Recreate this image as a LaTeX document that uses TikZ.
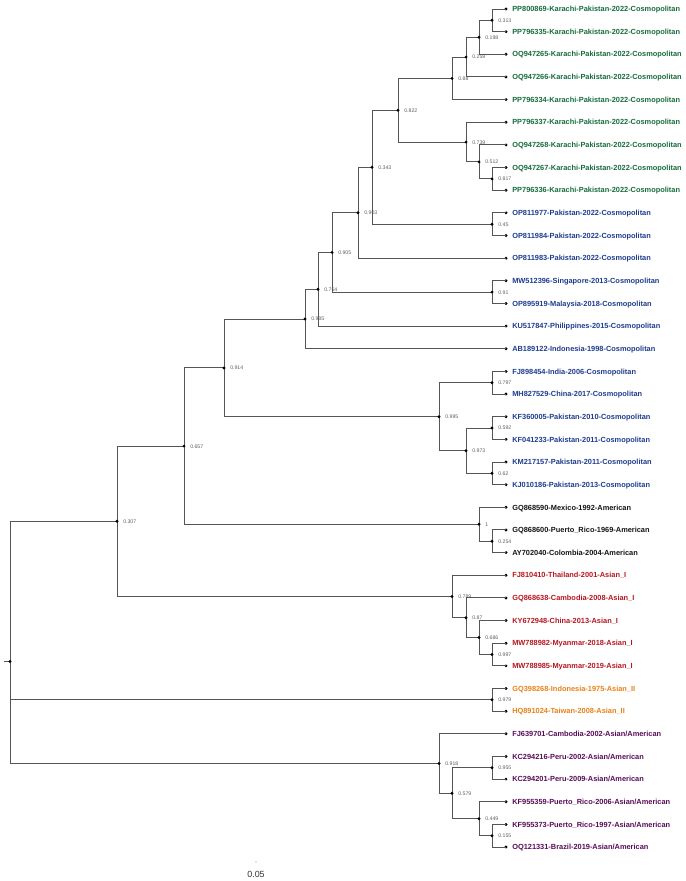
\documentclass[tikz,border=0pt]{standalone}
\usepackage{fontspec}
\setmainfont{Liberation Sans}
\definecolor{cgreen}{RGB}{22,108,60}
\definecolor{cblue}{RGB}{30,60,140}
\definecolor{cred}{RGB}{180,22,32}
\definecolor{corange}{RGB}{232,128,24}
\definecolor{cpurple}{RGB}{88,12,88}
\definecolor{cblack}{RGB}{20,20,20}
\definecolor{linegray}{RGB}{85,85,85}
\definecolor{labgray}{RGB}{95,95,95}
\tikzset{
  edge/.style={draw=linegray, line width=0.7pt},
  dotfill/.style={fill=black},
  leaflab/.style={anchor=base west, inner sep=0pt, font=\fontsize{5.55}{6}\selectfont\bfseries},
  bslab/.style={anchor=base west, inner sep=0pt, text=labgray, font=\fontsize{3.9}{4.2}\selectfont},
  scalelab/.style={inner sep=0pt, text=black!80, font=\fontsize{6.7}{7}\selectfont}
}
\newcommand\leafat[4]{%
  \coordinate (#1) at (506,#2);
  \fill[dotfill] (#1) circle[radius=1.2pt];
  \node[leaflab,text=#3] (#1t) at (512,#2+2.7) {#4};
}
\newcommand\inode[4]{%
  \coordinate (#1) at (#2,#3);
  \node[bslab] (#1b) at (#2+6,#3+1.9) {#4};
}
\begin{document}
\begin{tikzpicture}[x=0.75pt,y={(0pt,-0.75pt)}]
\useasboundingbox (0,0) rectangle (685,881);
% leaves
\leafat{L1}{9.0}{cgreen}{PP800869-Karachi-Pakistan-2022-Cosmopolitan}
\leafat{L2}{31.65}{cgreen}{PP796335-Karachi-Pakistan-2022-Cosmopolitan}
\leafat{L3}{54.3}{cgreen}{OQ947265-Karachi-Pakistan-2022-Cosmopolitan}
\leafat{L4}{76.95}{cgreen}{OQ947266-Karachi-Pakistan-2022-Cosmopolitan}
\leafat{L5}{99.6}{cgreen}{PP796334-Karachi-Pakistan-2022-Cosmopolitan}
\leafat{L6}{122.25}{cgreen}{PP796337-Karachi-Pakistan-2022-Cosmopolitan}
\leafat{L7}{144.9}{cgreen}{OQ947268-Karachi-Pakistan-2022-Cosmopolitan}
\leafat{L8}{167.55}{cgreen}{OQ947267-Karachi-Pakistan-2022-Cosmopolitan}
\leafat{L9}{190.2}{cgreen}{PP796336-Karachi-Pakistan-2022-Cosmopolitan}
\leafat{L10}{212.85}{cblue}{OP811977-Pakistan-2022-Cosmopolitan}
\leafat{L11}{235.5}{cblue}{OP811984-Pakistan-2022-Cosmopolitan}
\leafat{L12}{258.15}{cblue}{OP811983-Pakistan-2022-Cosmopolitan}
\leafat{L13}{280.8}{cblue}{MW512396-Singapore-2013-Cosmopolitan}
\leafat{L14}{303.45}{cblue}{OP895919-Malaysia-2018-Cosmopolitan}
\leafat{L15}{326.1}{cblue}{KU517847-Philippines-2015-Cosmopolitan}
\leafat{L16}{348.75}{cblue}{AB189122-Indonesia-1998-Cosmopolitan}
\leafat{L17}{371.4}{cblue}{FJ898454-India-2006-Cosmopolitan}
\leafat{L18}{394.05}{cblue}{MH827529-China-2017-Cosmopolitan}
\leafat{L19}{416.7}{cblue}{KF360005-Pakistan-2010-Cosmopolitan}
\leafat{L20}{439.35}{cblue}{KF041233-Pakistan-2011-Cosmopolitan}
\leafat{L21}{462.0}{cblue}{KM217157-Pakistan-2011-Cosmopolitan}
\leafat{L22}{484.65}{cblue}{KJ010186-Pakistan-2013-Cosmopolitan}
\leafat{L23}{507.3}{cblack}{GQ868590-Mexico-1992-American}
\leafat{L24}{529.95}{cblack}{GQ868600-Puerto\_Rico-1969-American}
\leafat{L25}{552.6}{cblack}{AY702040-Colombia-2004-American}
\leafat{L26}{575.25}{cred}{FJ810410-Thailand-2001-Asian\_I}
\leafat{L27}{597.9}{cred}{GQ868638-Cambodia-2008-Asian\_I}
\leafat{L28}{620.55}{cred}{KY672948-China-2013-Asian\_I}
\leafat{L29}{643.2}{cred}{MW788982-Myanmar-2018-Asian\_I}
\leafat{L30}{665.85}{cred}{MW788985-Myanmar-2019-Asian\_I}
\leafat{L31}{688.5}{corange}{GQ398268-Indonesia-1975-Asian\_II}
\leafat{L32}{711.15}{corange}{HQ891024-Taiwan-2008-Asian\_II}
\leafat{L33}{733.8}{cpurple}{FJ639701-Cambodia-2002-Asian/American}
\leafat{L34}{756.45}{cpurple}{KC294216-Peru-2002-Asian/American}
\leafat{L35}{779.1}{cpurple}{KC294201-Peru-2009-Asian/American}
\leafat{L36}{801.75}{cpurple}{KF955359-Puerto\_Rico-2006-Asian/American}
\leafat{L37}{824.4}{cpurple}{KF955373-Puerto\_Rico-1997-Asian/American}
\leafat{L38}{847.05}{cpurple}{OQ121331-Brazil-2019-Asian/American}
% internal nodes
\inode{n313}{492}{20.3}{0.313}
\inode{n198}{479}{37.3}{0.198}
\inode{n259}{466}{57.1}{0.259}
\inode{n88}{452}{78.4}{0.88}
\inode{n817}{492}{178.9}{0.817}
\inode{n512}{479}{161.9}{0.512}
\inode{n739}{466}{142.1}{0.739}
\inode{n822}{398}{110.2}{0.822}
\inode{n45}{492}{224.2}{0.45}
\inode{n343}{372}{167.2}{0.343}
\inode{n903}{358}{212.7}{0.903}
\inode{n91}{492}{292.1}{0.91}
\inode{n905}{332}{252.4}{0.905}
\inode{n754}{318}{289.3}{0.754}
\inode{n985}{305}{319.0}{0.985}
\inode{n797}{492}{382.7}{0.797}
\inode{n592}{492}{428.0}{0.592}
\inode{n62}{492}{473.3}{0.62}
\inode{n973}{466}{450.7}{0.973}
\inode{n995}{439}{416.7}{0.995}
\inode{n914}{224}{367.9}{0.914}
\inode{n254}{492}{541.3}{0.254}
\inode{n1}{479}{524.3}{1}
\inode{n657}{184}{446.1}{0.657}
\inode{n997}{492}{654.5}{0.997}
\inode{n686}{479}{637.5}{0.686}
\inode{n87}{466}{617.7}{0.87}
\inode{n789}{452}{596.5}{0.789}
\inode{n307}{117}{521.3}{0.307}
\inode{n979}{492}{699.8}{0.979}
\inode{n155}{492}{835.7}{0.155}
\inode{n449}{479}{818.7}{0.449}
\inode{n955}{492}{767.8}{0.955}
\inode{n579}{452}{793.3}{0.579}
\inode{n918}{439}{763.5}{0.918}
\coordinate (root) at (10,661.4);
\coordinate (rootstub) at (4,661.4);
% edges
\foreach \p/\c in {n313/L1,n313/L2,n198/n313,n198/L3,n259/n198,n259/L4,n88/n259,n88/L5,
  n817/L8,n817/L9,n512/L7,n512/n817,n739/L6,n739/n512,n822/n88,n822/n739,
  n45/L10,n45/L11,n343/n822,n343/n45,n903/n343,n903/L12,n91/L13,n91/L14,
  n905/n903,n905/n91,n754/n905,n754/L15,n985/n754,n985/L16,
  n797/L17,n797/L18,n592/L19,n592/L20,n62/L21,n62/L22,n973/n592,n973/n62,
  n995/n797,n995/n973,n914/n985,n914/n995,n254/L24,n254/L25,n1/L23,n1/n254,
  n657/n914,n657/n1,n997/L29,n997/L30,n686/L28,n686/n997,n87/L27,n87/n686,
  n789/L26,n789/n87,n307/n657,n307/n789,n979/L31,n979/L32,n155/L37,n155/L38,
  n449/L36,n449/n155,n955/L34,n955/L35,n579/n955,n579/n449,n918/L33,n918/n579,
  root/n307,root/n979,root/n918}
  {\draw[edge] (\p) |- (\c);}
\draw[edge] (rootstub) -- (root);
% node dots
\foreach \n in {n313,n198,n259,n88,n817,n512,n739,n822,n45,n343,n903,n91,n905,n754,n985,
  n797,n592,n62,n973,n995,n914,n254,n1,n657,n997,n686,n87,n789,n307,n979,n155,n449,n955,n579,n918,root}
  {\fill[dotfill] (\n) circle[radius=1.2pt];}
% scale
\coordinate (sbar) at (256,862);
\fill[black!45] (sbar) circle[radius=0.4pt];
\node[scalelab] (scale) at (256,874) {0.05};
\end{tikzpicture}
\end{document}
